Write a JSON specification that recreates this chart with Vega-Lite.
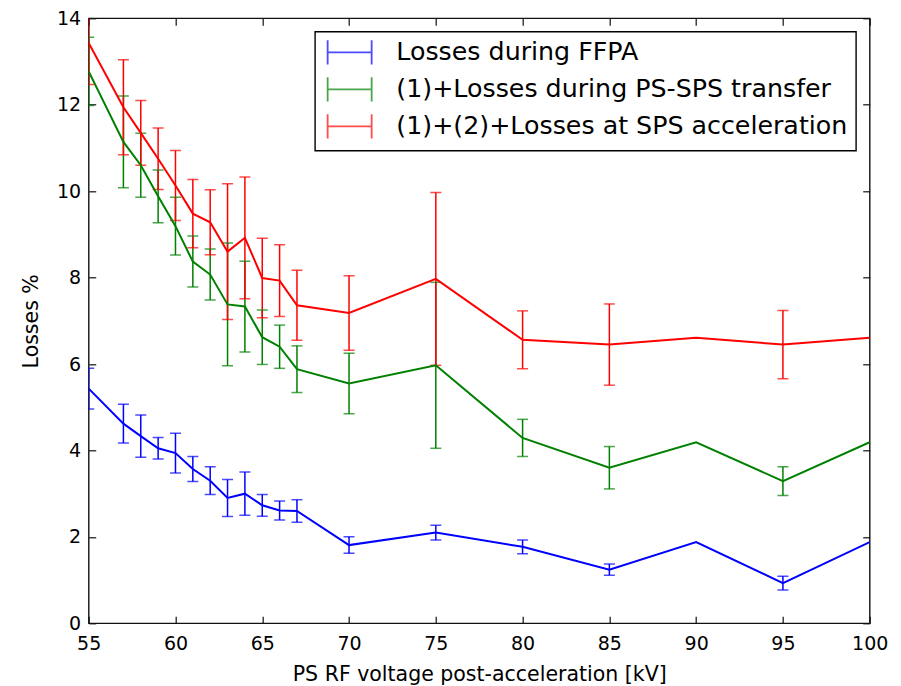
{
  "$schema": "https://vega.github.io/schema/vega-lite/v6.json",
  "width": 781,
  "height": 605,
  "autosize": {"type": "none"},
  "padding": {"left": 88.7, "top": 18.3, "right": 31.3, "bottom": 62.7},
  "background": "white",
  "config": {
    "font": "DejaVu Sans",
    "view": {"stroke": "#111111", "strokeWidth": 1.4},
    "axis": {
      "domain": false,
      "grid": false,
      "tickColor": "#111111",
      "tickWidth": 1.2,
      "tickSize": -7,
      "labelFont": "DejaVu Sans",
      "labelFontSize": 19,
      "labelColor": "black",
      "labelPadding": 15,
      "labelFlush": false,
      "titleFont": "DejaVu Sans",
      "titleFontSize": 20.5,
      "titleFontWeight": "normal",
      "titleColor": "black"
    },
    "legend": {
      "orient": "none",
      "legendX": 226.3,
      "legendY": 13.4,
      "strokeColor": "black",
      "strokeWidth": 1.4,
      "fillColor": "white",
      "padding": 8,
      "rowPadding": 4,
      "labelFont": "DejaVu Sans",
      "labelFontSize": 25.3,
      "labelColor": "black",
      "labelLimit": 700,
      "symbolType": "M-2,0H2M-2,-1.1V1.1M2,-1.1V1.1",
      "symbolSize": 484,
      "symbolStrokeWidth": 1.8,
      "symbolOffset": 14,
      "labelOffset": 34
    }
  },
  "data": {
    "values": [
      {"v": 55, "s": "Losses during FFPA", "y": 5.43, "lo": 4.96, "hi": 5.90},
      {"v": 57, "s": "Losses during FFPA", "y": 4.62, "lo": 4.17, "hi": 5.07},
      {"v": 58, "s": "Losses during FFPA", "y": 4.33, "lo": 3.84, "hi": 4.82},
      {"v": 59, "s": "Losses during FFPA", "y": 4.05, "lo": 3.80, "hi": 4.30},
      {"v": 60, "s": "Losses during FFPA", "y": 3.94, "lo": 3.48, "hi": 4.40},
      {"v": 61, "s": "Losses during FFPA", "y": 3.57, "lo": 3.28, "hi": 3.86},
      {"v": 62, "s": "Losses during FFPA", "y": 3.30, "lo": 2.98, "hi": 3.62},
      {"v": 63, "s": "Losses during FFPA", "y": 2.90, "lo": 2.47, "hi": 3.33},
      {"v": 64, "s": "Losses during FFPA", "y": 3.00, "lo": 2.50, "hi": 3.50},
      {"v": 65, "s": "Losses during FFPA", "y": 2.73, "lo": 2.48, "hi": 2.98},
      {"v": 66, "s": "Losses during FFPA", "y": 2.61, "lo": 2.39, "hi": 2.83},
      {"v": 67, "s": "Losses during FFPA", "y": 2.60, "lo": 2.34, "hi": 2.86},
      {"v": 70, "s": "Losses during FFPA", "y": 1.81, "lo": 1.62, "hi": 2.00},
      {"v": 75, "s": "Losses during FFPA", "y": 2.10, "lo": 1.93, "hi": 2.27},
      {"v": 80, "s": "Losses during FFPA", "y": 1.77, "lo": 1.61, "hi": 1.93},
      {"v": 85, "s": "Losses during FFPA", "y": 1.24, "lo": 1.11, "hi": 1.37},
      {"v": 90, "s": "Losses during FFPA", "y": 1.88},
      {"v": 95, "s": "Losses during FFPA", "y": 0.93, "lo": 0.77, "hi": 1.09},
      {"v": 100, "s": "Losses during FFPA", "y": 1.88},
      {"v": 55, "s": "(1)+Losses during PS-SPS transfer", "y": 12.77, "lo": 11.98, "hi": 13.56},
      {"v": 57, "s": "(1)+Losses during PS-SPS transfer", "y": 11.14, "lo": 10.08, "hi": 12.20},
      {"v": 58, "s": "(1)+Losses during PS-SPS transfer", "y": 10.60, "lo": 9.86, "hi": 11.34},
      {"v": 59, "s": "(1)+Losses during PS-SPS transfer", "y": 9.88, "lo": 9.27, "hi": 10.49},
      {"v": 60, "s": "(1)+Losses during PS-SPS transfer", "y": 9.19, "lo": 8.52, "hi": 9.86},
      {"v": 61, "s": "(1)+Losses during PS-SPS transfer", "y": 8.37, "lo": 7.78, "hi": 8.96},
      {"v": 62, "s": "(1)+Losses during PS-SPS transfer", "y": 8.07, "lo": 7.48, "hi": 8.66},
      {"v": 63, "s": "(1)+Losses during PS-SPS transfer", "y": 7.38, "lo": 5.96, "hi": 8.80},
      {"v": 64, "s": "(1)+Losses during PS-SPS transfer", "y": 7.33, "lo": 6.28, "hi": 8.38},
      {"v": 65, "s": "(1)+Losses during PS-SPS transfer", "y": 6.62, "lo": 5.99, "hi": 7.25},
      {"v": 66, "s": "(1)+Losses during PS-SPS transfer", "y": 6.40, "lo": 5.90, "hi": 6.90},
      {"v": 67, "s": "(1)+Losses during PS-SPS transfer", "y": 5.88, "lo": 5.34, "hi": 6.42},
      {"v": 70, "s": "(1)+Losses during PS-SPS transfer", "y": 5.55, "lo": 4.85, "hi": 6.25},
      {"v": 75, "s": "(1)+Losses during PS-SPS transfer", "y": 5.97, "lo": 4.05, "hi": 7.89},
      {"v": 80, "s": "(1)+Losses during PS-SPS transfer", "y": 4.29, "lo": 3.86, "hi": 4.72},
      {"v": 85, "s": "(1)+Losses during PS-SPS transfer", "y": 3.60, "lo": 3.11, "hi": 4.09},
      {"v": 90, "s": "(1)+Losses during PS-SPS transfer", "y": 4.19},
      {"v": 95, "s": "(1)+Losses during PS-SPS transfer", "y": 3.29, "lo": 2.96, "hi": 3.62},
      {"v": 100, "s": "(1)+Losses during PS-SPS transfer", "y": 4.19},
      {"v": 55, "s": "(1)+(2)+Losses at SPS acceleration", "y": 13.43, "lo": 12.47, "hi": 14.39},
      {"v": 57, "s": "(1)+(2)+Losses at SPS acceleration", "y": 11.94, "lo": 10.84, "hi": 13.04},
      {"v": 58, "s": "(1)+(2)+Losses at SPS acceleration", "y": 11.35, "lo": 10.60, "hi": 12.10},
      {"v": 59, "s": "(1)+(2)+Losses at SPS acceleration", "y": 10.75, "lo": 10.04, "hi": 11.46},
      {"v": 60, "s": "(1)+(2)+Losses at SPS acceleration", "y": 10.13, "lo": 9.32, "hi": 10.94},
      {"v": 61, "s": "(1)+(2)+Losses at SPS acceleration", "y": 9.48, "lo": 8.69, "hi": 10.27},
      {"v": 62, "s": "(1)+(2)+Losses at SPS acceleration", "y": 9.28, "lo": 8.53, "hi": 10.03},
      {"v": 63, "s": "(1)+(2)+Losses at SPS acceleration", "y": 8.60, "lo": 7.03, "hi": 10.17},
      {"v": 64, "s": "(1)+(2)+Losses at SPS acceleration", "y": 8.92, "lo": 7.51, "hi": 10.33},
      {"v": 65, "s": "(1)+(2)+Losses at SPS acceleration", "y": 7.99, "lo": 7.07, "hi": 8.91},
      {"v": 66, "s": "(1)+(2)+Losses at SPS acceleration", "y": 7.93, "lo": 7.10, "hi": 8.76},
      {"v": 67, "s": "(1)+(2)+Losses at SPS acceleration", "y": 7.36, "lo": 6.55, "hi": 8.17},
      {"v": 70, "s": "(1)+(2)+Losses at SPS acceleration", "y": 7.18, "lo": 6.32, "hi": 8.04},
      {"v": 75, "s": "(1)+(2)+Losses at SPS acceleration", "y": 7.97, "lo": 5.97, "hi": 9.97},
      {"v": 80, "s": "(1)+(2)+Losses at SPS acceleration", "y": 6.56, "lo": 5.89, "hi": 7.23},
      {"v": 85, "s": "(1)+(2)+Losses at SPS acceleration", "y": 6.45, "lo": 5.51, "hi": 7.39},
      {"v": 90, "s": "(1)+(2)+Losses at SPS acceleration", "y": 6.61},
      {"v": 95, "s": "(1)+(2)+Losses at SPS acceleration", "y": 6.45, "lo": 5.66, "hi": 7.24},
      {"v": 100, "s": "(1)+(2)+Losses at SPS acceleration", "y": 6.61}
    ]
  },
  "layer": [
    {
      "transform": [{"filter": "isValid(datum.lo)"}],
      "mark": {"type": "rule", "strokeWidth": 1.5, "clip": true},
      "encoding": {
        "x": {"field": "v", "type": "quantitative", "scale": {"domain": [55, 100], "nice": false, "zero": false},
              "axis": {"orient": "top", "labels": false, "title": null, "values": [55, 60, 65, 70, 75, 80, 85, 90, 95, 100]}},
        "y": {"field": "lo", "type": "quantitative", "scale": {"domain": [0, 14], "nice": false},
              "axis": {"orient": "right", "labels": false, "title": null, "values": [0, 2, 4, 6, 8, 10, 12, 14]}},
        "y2": {"field": "hi"},
        "color": {"field": "s", "type": "nominal", "title": null, "legend": {"title": null},
                  "scale": {"domain": ["Losses during FFPA", "(1)+Losses during PS-SPS transfer", "(1)+(2)+Losses at SPS acceleration"],
                            "range": ["#0000ff", "#008000", "#ff0000"]}}
      }
    },
    {
      "transform": [{"filter": "isValid(datum.lo)"}],
      "mark": {"type": "tick", "orient": "horizontal", "size": 11, "thickness": 1.5, "clip": true},
      "encoding": {
        "x": {"field": "v", "type": "quantitative", "axis": null},
        "y": {"field": "lo", "type": "quantitative", "axis": null},
        "color": {"field": "s", "type": "nominal"}
      }
    },
    {
      "transform": [{"filter": "isValid(datum.hi)"}],
      "mark": {"type": "tick", "orient": "horizontal", "size": 11, "thickness": 1.5, "clip": true},
      "encoding": {
        "x": {"field": "v", "type": "quantitative", "axis": null},
        "y": {"field": "hi", "type": "quantitative", "axis": null},
        "color": {"field": "s", "type": "nominal"}
      }
    },
    {
      "mark": {"type": "line", "strokeWidth": 2, "clip": true},
      "encoding": {
        "x": {"field": "v", "type": "quantitative",
              "axis": {"orient": "bottom", "title": "PS RF voltage post-acceleration [kV]", "values": [55, 60, 65, 70, 75, 80, 85, 90, 95, 100],
                       "titleY": 57, "titleBaseline": "alphabetic", "labelPadding": 18}},
        "y": {"field": "y", "type": "quantitative",
              "axis": {"orient": "left", "title": "Losses %", "values": [0, 2, 4, 6, 8, 10, 12, 14],
                       "titleX": -57.5, "titleBaseline": "middle"}},
        "color": {"field": "s", "type": "nominal"}
      }
    }
  ],
  "resolve": {"axis": {"x": "independent", "y": "independent"}}
}
